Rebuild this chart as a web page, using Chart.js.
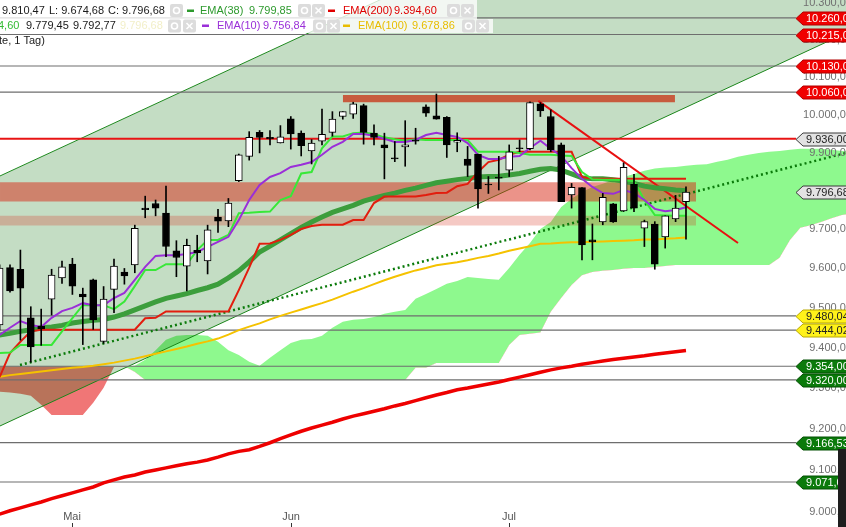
<!DOCTYPE html>
<html><head><meta charset="utf-8">
<script src="https://cdn.jsdelivr.net/npm/chart.js@4/dist/chart.umd.min.js"></script>
<style>html,body{margin:0;padding:0;background:#fff;overflow:hidden}#wrap{position:relative;width:846px;height:527px}</style>
</head><body><div id="wrap"><canvas id="c" width="846" height="527"></canvas></div>
<script>
// ---------- DATA ----------
const dates = ['2014-04-22','2014-04-23','2014-04-24','2014-04-25','2014-04-28','2014-04-29','2014-04-30',
'2014-05-02','2014-05-05','2014-05-06','2014-05-07','2014-05-08','2014-05-09','2014-05-12','2014-05-13','2014-05-14','2014-05-15','2014-05-16','2014-05-19','2014-05-20','2014-05-21','2014-05-22','2014-05-23','2014-05-26','2014-05-27','2014-05-28','2014-05-29','2014-05-30',
'2014-06-02','2014-06-03','2014-06-04','2014-06-05','2014-06-06','2014-06-09','2014-06-10','2014-06-11','2014-06-12','2014-06-13','2014-06-16','2014-06-17','2014-06-18','2014-06-19','2014-06-20','2014-06-23','2014-06-24','2014-06-25','2014-06-26','2014-06-27','2014-06-30',
'2014-07-01','2014-07-02','2014-07-03','2014-07-04','2014-07-07','2014-07-08','2014-07-09','2014-07-10','2014-07-11','2014-07-14','2014-07-15','2014-07-16','2014-07-17','2014-07-18','2014-07-21','2014-07-22','2014-07-23','2014-07-24'];
const open  = [9457,9602,9598,9475,9454,9522,9576,9611,9535,9571,9416,9547,9591,9609,9755,9767,9742,9645,9606,9646,9619,9732,9722,9826,9890,9953,9940,9925,9989,9951,9904,9930,9953,9995,10001,10024,9951,9920,9886,9915,9932,10021,9997,9993,9927,9883,9896,9817,9834,9854,9912,9910,10029,9995,9920,9789,9808,9673,9719,9766,9748,9817,9703,9714,9681,9727,9772];
const high  = [9609,9609,9647,9503,9497,9598,9619,9626,9550,9573,9554,9624,9600,9711,9786,9776,9812,9671,9675,9685,9711,9752,9780,9896,9955,9958,9958,9971,9995,9957,9934,10015,10008,10008,10033,10028,9973,9951,9929,9984,9964,10026,10055,9995,9952,9916,9896,9837,9890,9920,9933,10034,10032,10013,9925,9819,9808,9714,9793,9767,9873,9843,9724,9720,9735,9788,9810.47];
const low   = [9444,9540,9419,9364,9406,9482,9562,9534,9408,9446,9411,9488,9560,9589,9730,9735,9630,9579,9543,9617,9586,9692,9707,9824,9880,9899,9920,9925,9909,9891,9870,9920,9943,9988,9990,9922,9920,9831,9876,9864,9922,9995,9988,9887,9902,9837,9755,9793,9802,9837,9902,9907,9995,9902,9772,9755,9622,9622,9712,9718,9746,9746,9656,9598,9652,9720,9674.68];
const close = [9601,9543,9550,9402,9447,9583,9604,9555,9528,9470,9522,9606,9581,9703,9751,9755,9656,9628,9659,9640,9699,9721,9768,9894,9940,9940,9936,9941,9949,9918,9925,9948,9988,10008,10029,9953,9940,9912,9883,9920,9930,10004,9988,9920,9932,9866,9805,9815,9833,9902,9910,10032,10010,9907,9772,9809,9660,9668,9783,9719,9861,9755,9720,9611,9735,9755,9796.68];

const ema10  = [9432,9450,9467,9457,9452,9475,9492,9500,9512,9507,9507,9525,9538,9571,9604,9632,9634,9634,9637,9642,9655,9668,9681,9724,9776,9815,9836,9846,9862,9868,9875,9894,9915,9928,9949,9949,9944,9936,9928,9928,9933,9946,9952,9946,9941,9925,9894,9883,9883,9889,9891,9912,9931,9910,9891,9859,9831,9810,9794,9792,9802,9794,9776,9753,9747,9750,9757];
const ema38  = [9432,9436,9441,9445,9450,9452,9456,9462,9466,9469,9471,9477,9485,9495,9505,9515,9524,9530,9536,9544,9551,9560,9576,9594,9617,9642,9657,9673,9689,9705,9719,9732,9744,9753,9762,9773,9781,9788,9794,9801,9807,9814,9821,9825,9829,9832,9836,9837,9838,9841,9845,9851,9856,9858,9854,9844,9834,9831,9831,9829,9825,9819,9812,9808,9805,9802,9800];
const ema100 = [9328,9332,9335,9338,9341,9344,9347,9350,9352,9355,9359,9363,9368,9373,9379,9385,9391,9397,9403,9410,9416,9423,9433,9444,9453,9461,9471,9480,9488,9496,9504,9512,9521,9531,9541,9550,9560,9570,9579,9587,9595,9601,9608,9612,9616,9621,9627,9632,9638,9645,9651,9657,9663,9664,9666,9667,9667,9668,9669,9670,9671,9672,9674,9674,9676,9677,9679];
const ema200 = [8994,9002,9009,9016,9023,9031,9038,9045,9052,9059,9069,9076,9083,9088,9095,9100,9105,9110,9115,9119,9124,9131,9139,9145,9149,9157,9166,9176,9185,9194,9202,9209,9216,9224,9231,9237,9243,9249,9256,9262,9269,9276,9283,9289,9296,9300,9305,9310,9315,9321,9327,9333,9339,9345,9350,9354,9359,9363,9367,9371,9374,9377,9380,9384,9387,9390,9393];
const tenkan = [9387,9388,9407,9407,9407,9407,9441,9474,9507,9507,9507,9497,9516,9555,9596,9596,9611,9611,9611,9647,9673,9673,9686,9742,9743,9745,9746,9776,9786,9845,9849,9911,9942,9942,9951,9953,9949,9940,9935,9931,9935,9933,9933,9933,9933,9933,9902,9902,9902,9902,9899,9894,9894,9894,9892,9891,9849,9830,9829,9829,9828,9825,9776,9737,9736,9735,9735];
const kijun  = [9327,9387,9415,9441,9445,9445,9445,9445,9445,9445,9445,9445,9445,9445,9474,9475,9491,9491,9491,9491,9491,9491,9491,9545,9602,9663,9664,9673,9686,9701,9709,9712,9712,9712,9724,9724,9768,9785,9785,9785,9785,9789,9794,9795,9812,9818,9849,9875,9881,9894,9902,9902,9902,9902,9902,9902,9836,9831,9831,9831,9831,9831,9831,9831,9831,9831,9831];
// Ichimoku spans, shifted forward (same start as dates, 16 periods beyond)
const spanA = [9291,9289,9286,9281,9259,9234,9234,9234,9234,9264,9301,9352,9352,9355,9370,9394,9420,9430,9432,9432,9430,9415,9394,9382,9365,9355,9375,9394,9412,9420,9422,9430,9450,9465,9470,9472,9477,9485,9490,9495,9523,9535,9548,9561,9568,9578,9576,9573,9571,9601,9635,9665,9701,9719,9758,9779,9797,9810,9818,9828,9836,9844,9852,9858,9861,9862,9865,9868,9869,9876,9881,9889,9894,9899,9902,9904,9907,9910,9910,9910,9907,9904,9904];
const spanB = [9354,9354,9354,9354,9354,9354,9354,9354,9354,9354,9354,9354,9354,9340,9320,9320,9320,9320,9320,9320,9320,9320,9320,9320,9320,9320,9320,9320,9320,9320,9320,9320,9320,9320,9320,9320,9320,9320,9320,9320,9350,9350,9362,9362,9362,9362,9362,9362,9362,9407,9432,9435,9438,9490,9525,9558,9583,9591,9594,9596,9599,9601,9601,9604,9606,9609,9609,9609,9609,9609,9609,9609,9609,9609,9609,9627,9673,9704,9711,9719,9729,9737,9740];

// drawn objects (x in trading-day index, y in points)
const channelUpper = [[-0.96, 9838.6], [80.39, 10917.6]];
const channelLower = [[-0.96, 9206.9], [80.39, 10219.2]];
const dottedTrend  = [[0.96, 9357.2], [80.39, 9898.9]];
const downTrend    = [[50.8, 10036.5], [70.0, 9665.2]];
const zone1 = {from:-0.96, to:65.96, top:9822, bottom:9772};
const zone2 = {from:-0.96, to:65.96, top:9735, bottom:9710};
const topBar = {from:32.0, to:63.94, top:10052, bottom:10033};
const levelValues = [10260, 10215, 10130, 10060, 9936, 9796.68, 9480.04, 9444.02, 9354, 9320, 9166.53, 9071];
const levelKinds  = ['red','red','red','red','gray','gray','yellow','yellow','green','green','green','green'];
const yTicks = [9000,9100,9200,9300,9400,9500,9600,9700,9800,9900,10000,10100,10200,10300];
const monthNames = ['Jan','Feb','Mär','Apr','Mai','Jun','Jul','Aug','Sep','Okt','Nov','Dez'];

// ---------- helpers ----------
const FIRST = -1;                 // index of first candle
const xs = dates.map((d,i)=>i+FIRST);
const xsSpan = spanA.map((v,i)=>i+FIRST);
const XMIN = -0.9615, XMAX = 80.385, TAGX = 75.58;
function pts(xarr, yarr){ return yarr.map((v,i)=>({x:xarr[i], y:v})); }
function seg(a){ return a.map(p=>({x:p[0], y:p[1]})); }
function fmtDE(v,d){ let s=v.toFixed(d).split('.'); let i=s[0].replace(/\B(?=(\d{3})+(?!\d))/g,'.'); return s[1]!==undefined? i+','+s[1] : i; }

const FONT = '"Liberation Sans", Arial, sans-serif';
const datasets = [];
function add(ds){ datasets.push(ds); return datasets.length-1; }
const lineBase = {type:'line', pointRadius:0, pointHoverRadius:0, tension:0, fill:false};

// cloud
const iSpanB = 1;
add({...lineBase, data: pts(xsSpan, spanA), borderWidth:0, borderColor:'rgba(0,0,0,0)', order:200,
     fill:{target:iSpanB, above:'rgb(142,249,142)', below:'rgb(240,118,118)'}});
add({...lineBase, data: pts(xsSpan, spanB), borderWidth:0, borderColor:'rgba(0,0,0,0)', order:199});
// channel
const iLow = add({...lineBase, data: seg(channelLower), borderWidth:1, borderColor:'#1f8a1f', order:190});
add({...lineBase, data: seg(channelUpper), borderWidth:1, borderColor:'#1f8a1f', order:189,
     fill:{target:iLow, above:'rgba(0,110,0,0.23)', below:'rgba(0,110,0,0.23)'}});
// zones
function band(z, color, order){
  const b = add({...lineBase, data:[{x:z.from,y:z.bottom},{x:z.to,y:z.bottom}], borderWidth:0, borderColor:'rgba(0,0,0,0)', order:order+1});
  add({...lineBase, data:[{x:z.from,y:z.top},{x:z.to,y:z.top}], borderWidth:0, borderColor:'rgba(0,0,0,0)', order:order,
       fill:{target:b, above:color, below:color}});
}
band(zone1, 'rgba(215,40,20,0.5)', 180);
band(zone2, 'rgba(215,40,20,0.25)', 178);
band(topBar, 'rgba(200,40,10,0.72)', 176);
// levels
levelValues.forEach((v,i)=>{
  if (levelKinds[i]==='gray' && v!==9936) return;
  const red = v===9936;
  add({...lineBase, data:[{x:XMIN,y:v},{x:TAGX,y:v}], borderWidth: red?2:1.2, borderColor: red?'#e81414':'#6e6e6e', order:170});
});
// trend lines
add({...lineBase, data: seg(dottedTrend), borderWidth:2.5, borderColor:'#0a7a0a', borderDash:[2,3], order:160});
add({...lineBase, data: seg(downTrend), borderWidth:2, borderColor:'#e81010', order:159});
// indicators
add({...lineBase, data: pts(xs, ema200), borderWidth:3.5, borderColor:'#ee0000', order:150});
add({...lineBase, data: pts(xs, ema100), borderWidth:2, borderColor:'#f5c200', order:149});
add({...lineBase, data: pts(xs, ema38), borderWidth:5, borderColor:'#3c9e3c', order:148});
add({...lineBase, data: pts(xs, kijun), borderWidth:2, borderColor:'#e21d0e', order:147});
add({...lineBase, data: pts(xs, tenkan), borderWidth:2, borderColor:'#38e838', order:146});
add({...lineBase, data: pts(xs, ema10), borderWidth:2, borderColor:'#9a2fd8', order:145});
// candles
add({type:'bar', data: xs.map((x,i)=>({x, y:[low[i], high[i]]})), backgroundColor:'#000', borderWidth:0,
     barThickness:1, grouped:false, order:2});
add({type:'bar', data: xs.map((x,i)=>({x, y:[open[i], close[i]]})),
     backgroundColor: close.map((c,i)=> c>=open[i] ? '#ffffff' : '#000000'),
     borderColor:'#000', borderWidth:1, borderSkipped:false, barThickness:7, minBarLength:1, grouped:false, order:1});

// ---------- overlay plugin ----------
const tagStyles = {
  red:{fill:'#f00000', stroke:'#b00000', text:'#ffffff'},
  gray:{fill:'#e2e2e2', stroke:'#3a3a3a', text:'#222222'},
  yellow:{fill:'#fff21a', stroke:'#b8a800', text:'#222222'},
  green:{fill:'#0b7a0b', stroke:'#055005', text:'#ffffff'}
};
function drawTag(ctx, y, text, st){
  const x0=796, h=13;
  ctx.beginPath(); ctx.moveTo(x0,y); ctx.lineTo(x0+7,y-h/2); ctx.lineTo(860,y-h/2); ctx.lineTo(860,y+h/2); ctx.lineTo(x0+7,y+h/2); ctx.closePath();
  ctx.fillStyle=st.fill; ctx.fill(); ctx.lineWidth=1; ctx.strokeStyle=st.stroke; ctx.stroke();
  ctx.fillStyle=st.text; ctx.textAlign='left'; ctx.textBaseline='middle'; ctx.fillText(text, 806, y+0.5);
}
function icon(ctx, x, y, kind){
  ctx.fillStyle='#dcdcdc';
  ctx.beginPath(); ctx.roundRect ? ctx.roundRect(x,y,13,13,2) : ctx.rect(x,y,13,13); ctx.fill();
  ctx.strokeStyle='#ffffff'; ctx.lineWidth=1.6; ctx.beginPath();
  if(kind==='o'){ ctx.arc(x+6.5,y+6.5,3,0,Math.PI*2); }
  else { ctx.moveTo(x+3.5,y+3.5); ctx.lineTo(x+9.5,y+9.5); ctx.moveTo(x+9.5,y+3.5); ctx.lineTo(x+3.5,y+9.5); }
  ctx.stroke();
}
const overlay = {
  id:'overlay',
  afterDraw(chart){
    const ctx=chart.ctx, ys=chart.scales.y, xsS=chart.scales.x;
    ctx.save();
    ctx.font='11px '+FONT;
    // y tick labels
    ctx.fillStyle='#707070'; ctx.textAlign='right'; ctx.textBaseline='middle';
    yTicks.forEach(v=>ctx.fillText(fmtDE(v,2), 852, ys.getPixelForValue(v)));
    // tags
    levelValues.forEach((v,i)=>drawTag(ctx, Math.round(ys.getPixelForValue(v))+0.5, fmtDE(v,2), tagStyles[levelKinds[i]]));
    // month labels
    let prev=null;
    dates.forEach((d,i)=>{
      const m=+d.slice(5,7);
      if(prev!==null && m!==prev){
        const px=Math.round(xsS.getPixelForValue(xs[i]));
        ctx.fillStyle='#555'; ctx.textAlign='center'; ctx.textBaseline='middle';
        ctx.fillText(monthNames[m-1], px, 517);
        ctx.fillStyle='#333'; ctx.fillRect(px,523,1,4);
      }
      prev=m;
    });
    // side bar
    ctx.fillStyle='#1e1e1e'; ctx.fillRect(838,449,8,78);
    // legend
    ctx.fillStyle='rgba(255,255,255,0.78)'; ctx.fillRect(0,0,477,19); ctx.fillRect(0,19,493,14);
    ctx.textAlign='left'; ctx.textBaseline='middle';
    const T=(t,x,y,c)=>{ctx.fillStyle=c; ctx.fillText(t,x,y);};
    const dash=(x,y,c)=>{ctx.fillStyle=c; ctx.fillRect(x,y-1,7,2.5);};
    const r1=10.5, r2=25.5;
    T('9.810,47',2,r1,'#1a1a1a'); T('L: 9.674,68',49,r1,'#1a1a1a'); T('C: 9.796,68',108,r1,'#1a1a1a');
    icon(ctx,170,4,'o');
    dash(187,r1,'#2e9a2e'); T('EMA(38)',200,r1,'#2e9a2e'); T('9.799,85',249,r1,'#2e9a2e');
    icon(ctx,298,4,'o'); icon(ctx,312,4,'x');
    dash(328,r1,'#e00000'); T('EMA(200)',343,r1,'#e00000'); T('9.394,60',394,r1,'#e00000');
    icon(ctx,447,4,'o'); icon(ctx,461,4,'x');
    T('4,60',-2,r2,'#33bb33'); T('9.779,45',26,r2,'#1a1a1a'); T('9.792,77',73,r2,'#1a1a1a'); T('9.796,68',120,r2,'#f2efc8');
    icon(ctx,168,19.5,'o'); icon(ctx,183,19.5,'x');
    dash(202,r2,'#9a2fd8'); T('EMA(10)',217,r2,'#9a2fd8'); T('9.756,84',263,r2,'#9a2fd8');
    icon(ctx,313,19.5,'o'); icon(ctx,327,19.5,'x');
    dash(343,r2,'#e8bd00'); T('EMA(100)',358,r2,'#e8bd00'); T('9.678,86',412,r2,'#e8bd00');
    icon(ctx,462,19.5,'o'); icon(ctx,476,19.5,'x');
    T('te, 1 Tag)',-1,40.5,'#1a1a1a');
    ctx.restore();
  }
};

new Chart(document.getElementById('c'), {
  type:'line',
  data:{datasets},
  options:{
    responsive:false, animation:false, devicePixelRatio:1,
    layout:{padding:0},
    plugins:{legend:{display:false}, tooltip:{enabled:false}, filler:{propagate:false}},
    events:[],
    scales:{
      x:{type:'linear', min:XMIN, max:XMAX, display:false, offset:false, grid:{offset:false}},
      y:{type:'logarithmic', min:8963.3, max:10309, display:false, offset:false}
    }
  },
  plugins:[overlay]
});
</script></body></html>
